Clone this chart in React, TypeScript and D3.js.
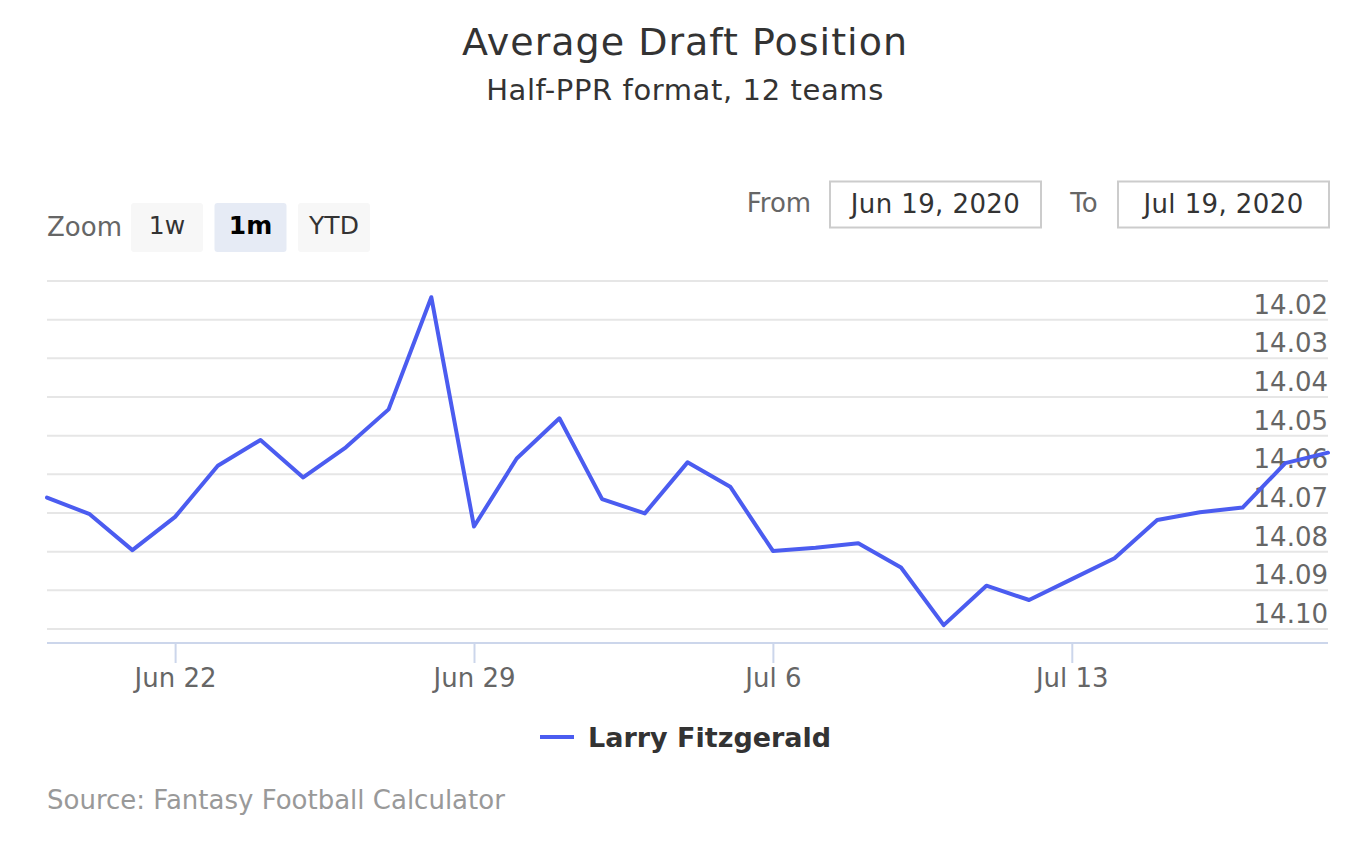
import { useEffect, useRef } from 'react';
import * as d3 from 'd3';

// Daily ADP values, Jun 19 -> Jul 19, 2020
const startDate = new Date(2020, 5, 19);
const adpValues = [
  14.066, 14.0703, 14.0796, 14.071, 14.0578, 14.0511, 14.0608, 14.053, 14.0432, 14.0142,
  14.0735, 14.0559, 14.0455, 14.0664, 14.0701, 14.0569, 14.0632, 14.0798, 14.079, 14.0778,
  14.0841, 14.099, 14.0888, 14.0925, 14.0871, 14.0817, 14.0718, 14.0698, 14.0686, 14.0571,
  14.0544,
];
const yTicks = [14.01, 14.02, 14.03, 14.04, 14.05, 14.06, 14.07, 14.08, 14.09, 14.1];
const zoomButtons = ['1w', '1m', 'YTD'];
const seriesName = 'Larry Fitzgerald';

const WIDTH = 1370;
const HEIGHT = 841;
const PLOT = { left: 47, right: 1328, top: 281, bottom: 643 };
const FONT = '"DejaVu Sans", sans-serif';
const LINE_COLOR = '#4b5cf0';

export default function App() {
  const svgRef = useRef<SVGSVGElement>(null);

  useEffect(() => {
    if (!svgRef.current) return;
    const svg = d3.select(svgRef.current);
    svg.selectAll('*').remove();
    svg.style('font-family', FONT);

    const data = adpValues.map((v, i) => ({ date: d3.timeDay.offset(startDate, i), value: v }));

    const x = d3
      .scaleTime()
      .domain([startDate, d3.timeDay.offset(startDate, adpValues.length - 1)])
      .range([PLOT.left, PLOT.right]);
    // reversed: lower pick number at the top
    const y = d3.scaleLinear().domain([14.01, 14.1]).range([281, 629]);

    // Title + subtitle
    svg
      .append('text')
      .attr('x', WIDTH / 2)
      .attr('y', 55)
      .attr('text-anchor', 'middle')
      .attr('font-size', '38px')
      .attr('letter-spacing', '1px')
      .attr('fill', '#333333')
      .text('Average Draft Position');
    svg
      .append('text')
      .attr('x', WIDTH / 2)
      .attr('y', 100)
      .attr('text-anchor', 'middle')
      .attr('font-size', '29px')
      .attr('letter-spacing', '0.6px')
      .attr('fill', '#333333')
      .text('Half-PPR format, 12 teams');

    // Range selector buttons
    svg
      .append('text')
      .attr('x', 47)
      .attr('y', 236)
      .attr('font-size', '26px')
      .attr('fill', '#666666')
      .text('Zoom');
    zoomButtons.forEach((label, i) => {
      const bx = 131 + i * 83.5;
      const active = label === '1m';
      svg
        .append('rect')
        .attr('x', bx)
        .attr('y', 203)
        .attr('width', 72)
        .attr('height', 49)
        .attr('rx', 3)
        .attr('fill', active ? '#e6ebf5' : '#f7f7f7');
      svg
        .append('text')
        .attr('x', bx + 36)
        .attr('y', 234)
        .attr('text-anchor', 'middle')
        .attr('font-size', '25px')
        .attr('font-weight', active ? 700 : 400)
        .attr('fill', active ? '#000000' : '#333333')
        .text(label);
    });

    // Date inputs
    const inputs = [
      { label: 'From', lx: 779, bx: 830, text: 'Jun 19, 2020' },
      { label: 'To', lx: 1084, bx: 1118, text: 'Jul 19, 2020' },
    ];
    inputs.forEach(d => {
      svg
        .append('text')
        .attr('x', d.lx)
        .attr('y', 212)
        .attr('text-anchor', 'middle')
        .attr('font-size', '26px')
        .attr('fill', '#666666')
        .text(d.label);
      svg
        .append('rect')
        .attr('x', d.bx)
        .attr('y', 181.5)
        .attr('width', 211)
        .attr('height', 46)
        .attr('fill', '#ffffff')
        .attr('stroke', '#cccccc')
        .attr('stroke-width', 2);
      svg
        .append('text')
        .attr('x', d.bx + 105.5)
        .attr('y', 213)
        .attr('text-anchor', 'middle')
        .attr('font-size', '26px')
        .attr('letter-spacing', '0.4px')
        .attr('fill', '#333333')
        .text(d.text);
    });

    // Grid lines
    svg
      .append('g')
      .selectAll('line')
      .data(yTicks)
      .join('line')
      .attr('x1', PLOT.left)
      .attr('x2', PLOT.right)
      .attr('y1', d => y(d))
      .attr('y2', d => y(d))
      .attr('stroke', '#e6e6e6')
      .attr('stroke-width', 2);

    // Y labels (right side, above gridline; first hidden)
    svg
      .append('g')
      .selectAll('text')
      .data(yTicks.slice(1))
      .join('text')
      .attr('x', PLOT.right)
      .attr('y', d => y(d) - 6)
      .attr('text-anchor', 'end')
      .attr('font-size', '26px')
      .attr('fill', '#666666')
      .text(d => d.toFixed(2));

    // X axis
    const xAxis = d3
      .axisBottom(x)
      .tickValues(d3.timeMonday.range(startDate, d3.timeDay.offset(startDate, 31)))
      .tickFormat(d => d3.timeFormat('%b %-d')(d as Date))
      .tickSize(20)
      .tickPadding(6);
    const gx = svg.append('g').attr('transform', `translate(0, ${PLOT.bottom})`).call(xAxis);
    gx.select('.domain').attr('stroke', '#ccd6eb').attr('stroke-width', 2).attr('d', `M${PLOT.left},0H${PLOT.right}`);
    gx.selectAll('.tick line').attr('stroke', '#ccd6eb').attr('stroke-width', 2);
    gx.selectAll('.tick text')
      .attr('font-size', '26px')
      .attr('font-family', FONT)
      .attr('fill', '#666666');

    // Series line
    const line = d3
      .line<{ date: Date; value: number }>()
      .x(d => x(d.date))
      .y(d => y(d.value));
    svg
      .append('path')
      .datum(data)
      .attr('d', line)
      .attr('fill', 'none')
      .attr('stroke', LINE_COLOR)
      .attr('stroke-width', 4)
      .attr('stroke-linejoin', 'round')
      .attr('stroke-linecap', 'round');

    // Legend
    svg
      .append('line')
      .attr('x1', 540)
      .attr('x2', 574)
      .attr('y1', 737)
      .attr('y2', 737)
      .attr('stroke', LINE_COLOR)
      .attr('stroke-width', 4);
    svg
      .append('text')
      .attr('x', 588)
      .attr('y', 747)
      .attr('font-size', '27px')
      .attr('font-weight', 700)
      .attr('fill', '#333333')
      .text(seriesName);

    // Credits
    svg
      .append('text')
      .attr('x', 47)
      .attr('y', 809)
      .attr('font-size', '26px')
      .attr('fill', '#999999')
      .text('Source: Fantasy Football Calculator');
  }, []);

  return (
    <svg
      ref={svgRef}
      width={WIDTH}
      height={HEIGHT}
      style={{ position: 'absolute', top: 0, left: 0, background: '#ffffff', display: 'block' }}
    />
  );
}
